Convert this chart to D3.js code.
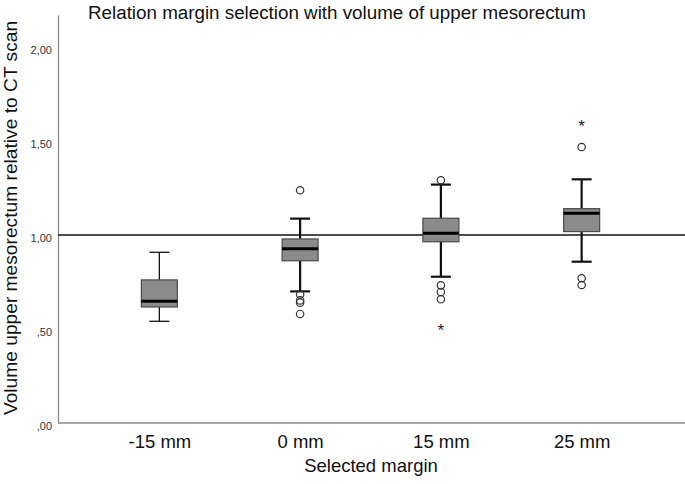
<!DOCTYPE html>
<html><head><meta charset="utf-8">
<script src="https://cdn.jsdelivr.net/npm/d3@7"></script>
<style>
html,body{margin:0;padding:0;background:#fff;}
svg{display:block;font-family:"Liberation Sans",Arial,sans-serif;}
</style></head>
<body>
<svg id="chart" width="685" height="484"></svg>
<script>
const categories = ["-15 mm", "0 mm", "15 mm", "25 mm"];
const whiskerLow = [0.541, 0.700, 0.778, 0.858];
const q1 = [0.617, 0.863, 0.964, 1.018];
const median = [0.647, 0.927, 1.009, 1.115];
const q3 = [0.761, 0.979, 1.089, 1.140];
const whiskerHigh = [0.908, 1.087, 1.268, 1.296];
const outliers = [[], [1.238, 0.683, 0.652, 0.640, 0.580], [1.291, 0.732, 0.697, 0.658], [1.468, 0.770, 0.734]];
const extremes = [[], [], [0.509], [1.594]];
const yTicks = [0, 0.5, 1.0, 1.5, 2.0];
const referenceValue = 1.0;
const title = "Relation margin selection with volume of upper mesorectum";
const xTitle = "Selected margin";
const yTitle = "Volume upper mesorectum relative to CT scan";

(function () {
const svg = d3.select("#chart");
const mLeft = 58, mRight = 683, mBottom = 423, mTop = 15;
const x = d3.scalePoint().domain(categories).range([mLeft, mRight]).padding(0.72);
const y = d3.scaleLinear().domain([0, 2.17]).range([mBottom, mTop]);
const fmt = v => d3.format(".2f")(v).replace(".", ",").replace(/^0/, "");

// axes
const yAxis = d3.axisLeft(y).tickValues(yTicks).tickFormat(fmt).tickSize(0).tickPadding(6);
const gy = svg.append("g").attr("transform", `translate(${mLeft},0)`).call(yAxis);
gy.select(".domain").attr("stroke", "#8a8a8a").attr("stroke-width", 1.3);
gy.selectAll("text").attr("font-size", 11).attr("fill", "#333").attr("dy", "0.55em")
  .attr("font-family", "'Liberation Sans',Arial,sans-serif");

const xAxis = d3.axisBottom(x).tickSize(0).tickPadding(12);
const gx = svg.append("g").attr("transform", `translate(0,${mBottom})`).call(xAxis);
gx.select(".domain").remove();
svg.append("line").attr("x1", mLeft).attr("x2", 685).attr("y1", mBottom).attr("y2", mBottom)
  .attr("stroke", "#8a8a8a").attr("stroke-width", 1.3);
gx.selectAll("text").attr("font-size", 18.5).attr("fill", "#111")
  .attr("font-family", "'Liberation Sans',Arial,sans-serif");

// reference line
svg.append("line").attr("x1", mLeft).attr("x2", 685)
  .attr("y1", y(referenceValue)).attr("y2", y(referenceValue))
  .attr("stroke", "#111").attr("stroke-width", 1.5);

// boxes
const bw = 36, cw = 20;
categories.forEach((c, i) => {
  const cx = x(c);
  const g = svg.append("g");
  const sw = i === 0 ? 1.3 : 2.2;
  g.append("line").attr("x1", cx).attr("x2", cx).attr("y1", y(whiskerHigh[i])).attr("y2", y(q3[i]))
    .attr("stroke", "#111").attr("stroke-width", sw);
  g.append("line").attr("x1", cx).attr("x2", cx).attr("y1", y(q1[i])).attr("y2", y(whiskerLow[i]))
    .attr("stroke", "#111").attr("stroke-width", sw);
  [whiskerHigh[i], whiskerLow[i]].forEach(v => {
    g.append("line").attr("x1", cx - cw / 2).attr("x2", cx + cw / 2).attr("y1", y(v)).attr("y2", y(v))
      .attr("stroke", "#111").attr("stroke-width", sw);
  });
  g.append("rect").attr("x", cx - bw / 2).attr("width", bw)
    .attr("y", y(q3[i])).attr("height", y(q1[i]) - y(q3[i]))
    .attr("fill", "#8b8b8b").attr("stroke", "#4a4a4a").attr("stroke-width", 1.2);
  g.append("line").attr("x1", cx - bw / 2).attr("x2", cx + bw / 2).attr("y1", y(median[i])).attr("y2", y(median[i]))
    .attr("stroke", "#000").attr("stroke-width", 3);
  outliers[i].forEach(v => {
    g.append("circle").attr("cx", cx).attr("cy", y(v)).attr("r", 3.7)
      .attr("fill", "none").attr("stroke", "#333").attr("stroke-width", 1.2);
  });
  extremes[i].forEach(v => {
    g.append("text").attr("x", cx).attr("y", y(v)).attr("dy", "0.5em").attr("text-anchor", "middle")
      .attr("font-size", 17).attr("fill", "#222").text("*");
  });
});

// titles
svg.append("text").attr("x", 88).attr("y", 19).attr("font-size", 18.8).attr("fill", "#111").text(title);
svg.append("text").attr("x", 371).attr("y", 472).attr("text-anchor", "middle")
  .attr("font-size", 18.5).attr("fill", "#111").text(xTitle);
svg.append("text").attr("transform", "translate(17,218) rotate(-90)").attr("text-anchor", "middle")
  .attr("font-size", 19.2).attr("fill", "#111").text(yTitle);
})();
</script>
</body></html>
